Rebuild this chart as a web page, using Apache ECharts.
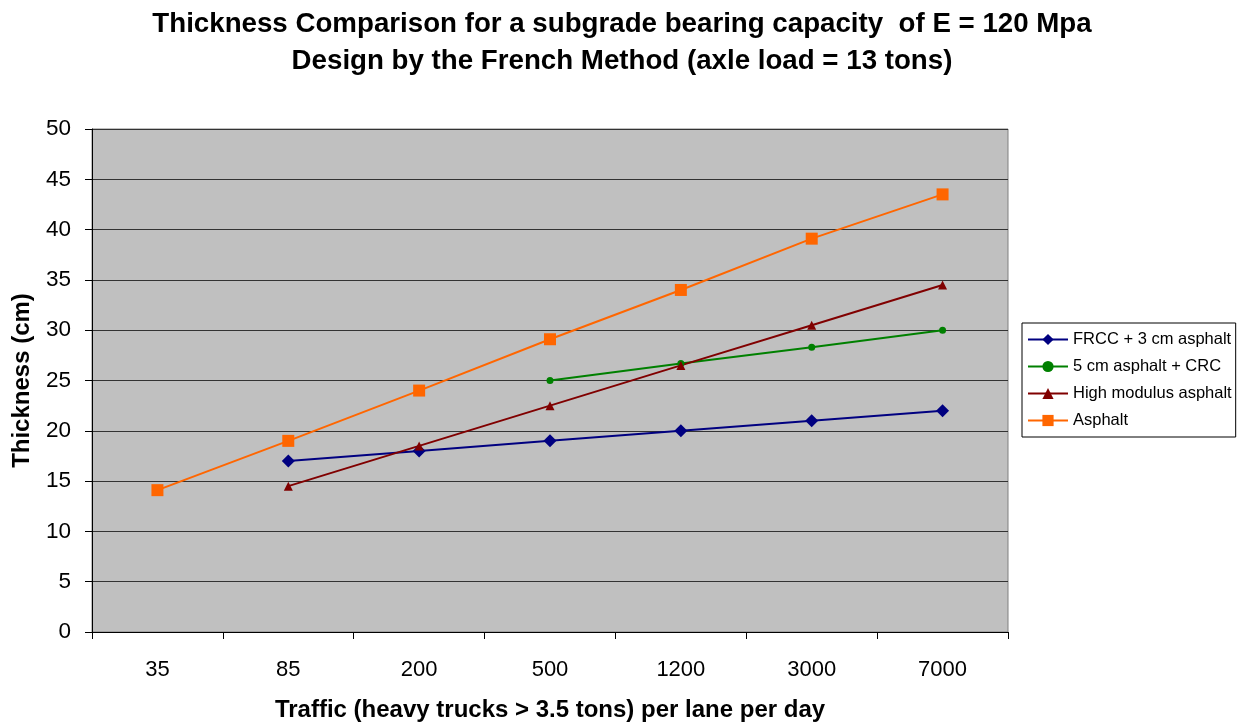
<!DOCTYPE html>
<html><head><meta charset="utf-8">
<script src="https://cdn.jsdelivr.net/npm/echarts@6/dist/echarts.min.js"></script>
<style>html,body{margin:0;padding:0;background:#fff}#c{width:1244px;height:724px}</style>
</head><body><div id="c"></div>
<script>
const categories = ['35','85','200','500','1200','3000','7000'];
const frcc = [null, 17, 18, 19, 20, 21, 22];
const crc = [null, null, null, 25, 26.7, 28.3, 30];
const highMod = [null, 14.5, 18.5, 22.5, 26.5, 30.5, 34.5];
const asphalt = [14.1, 19, 24, 29.1, 34, 39.1, 43.5];
const yTicks = [0, 50, 5];

const font = 'Liberation Sans, Arial, sans-serif';
const chart = echarts.init(document.getElementById('c'));
function s(name, data, color, symbol, size) {
  return {name, type:'line', data, symbol, symbolSize:size, showSymbol:true,
    lineStyle:{color, width:2}, itemStyle:{color}, connectNulls:false, animation:false};
}
chart.setOption({
  animation:false,
  title:{text:'Thickness Comparison for a subgrade bearing capacity  of E = 120 Mpa\nDesign by the French Method (axle load = 13 tons)',
    left:617, textAlign:'center', top:1,
    textStyle:{fontFamily:font, fontSize:27.7, fontWeight:'bold', color:'#000', lineHeight:37}},
  grid:{left:92, top:129, width:916, height:503, outerBoundsMode:'none', containLabel:false,
    backgroundColor:'#C0C0C0', show:true, borderColor:'#808080', borderWidth:1},
  legend:{orient:'vertical', left:1022, top:323, backgroundColor:'#fff', borderColor:'#000', borderWidth:1,
    padding:[8,4,8,5], itemGap:10, itemWidth:40, itemHeight:14,
    textStyle:{fontFamily:font, fontSize:16.5, color:'#000'},
    data:['FRCC + 3 cm asphalt','5 cm asphalt + CRC','High modulus asphalt','Asphalt']},
  xAxis:{type:'category', data:categories, boundaryGap:true,
    name:'Traffic (heavy trucks > 3.5 tons) per lane per day', nameLocation:'middle', nameGap:66,
    nameTextStyle:{fontFamily:font, fontSize:24, fontWeight:'bold', color:'#000'},
    axisLine:{lineStyle:{color:'#000', width:1}},
    axisTick:{show:true, length:7, inside:false, lineStyle:{color:'#000'}},
    axisLabel:{fontFamily:font, fontSize:22, color:'#000', margin:27}},
  yAxis:{type:'value', min:yTicks[0], max:yTicks[1], interval:yTicks[2],
    name:'Thickness (cm)', nameLocation:'middle', nameGap:58, nameRotate:90,
    nameTextStyle:{fontFamily:font, fontSize:24, fontWeight:'bold', color:'#000'},
    axisLine:{show:true, lineStyle:{color:'#000', width:1}},
    axisTick:{show:true, length:7, lineStyle:{color:'#000'}},
    axisLabel:{fontFamily:font, fontSize:22.5, color:'#000', margin:21},
    splitLine:{show:true, lineStyle:{color:'#333', width:1}}},
  series:[
    s('FRCC + 3 cm asphalt', frcc, '#000080', 'diamond', 13),
    s('5 cm asphalt + CRC', crc, '#008000', 'circle', 7),
    s('High modulus asphalt', highMod, '#800000', 'triangle', 9),
    s('Asphalt', asphalt, '#FF6600', 'rect', 12)
  ]
});
</script></body></html>
